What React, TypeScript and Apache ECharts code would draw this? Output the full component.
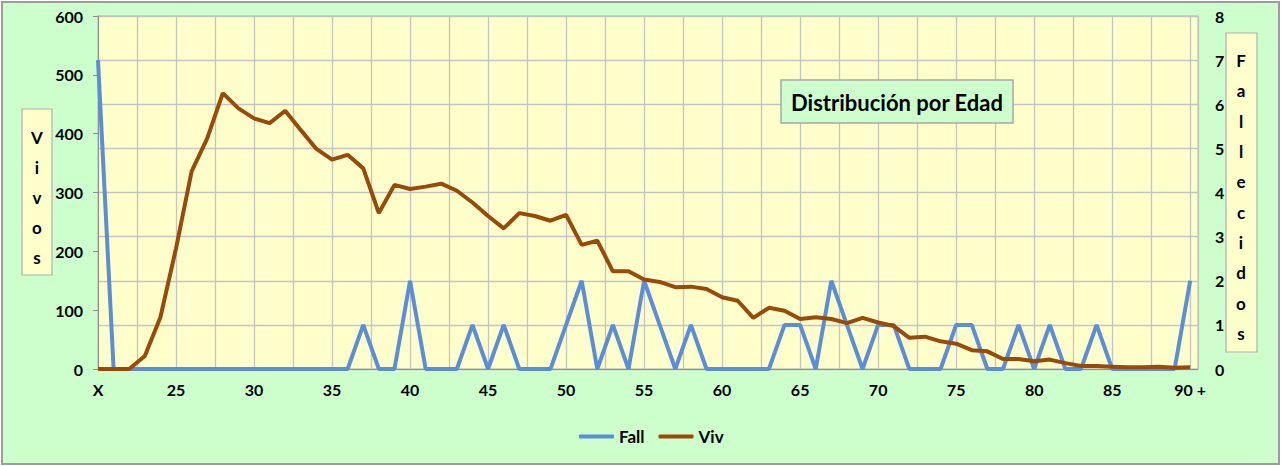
import React, { useEffect, useRef } from "react";
import * as echarts from "echarts";

const ages: string[] = [
  "X", "21", "22", "23", "24", "25", "26", "27", "28", "29", "30",
  "31", "32", "33", "34", "35", "36", "37", "38", "39", "40",
  "41", "42", "43", "44", "45", "46", "47", "48", "49", "50",
  "51", "52", "53", "54", "55", "56", "57", "58", "59", "60",
  "61", "62", "63", "64", "65", "66", "67", "68", "69", "70",
  "71", "72", "73", "74", "75", "76", "77", "78", "79", "80",
  "81", "82", "83", "84", "85", "86", "87", "88", "89", "90 +",
];

const fall: number[] = [
  7, 0, 0, 0, 0, 0, 0, 0, 0, 0, 0,
  0, 0, 0, 0, 0, 0, 1, 0, 0, 2,
  0, 0, 0, 1, 0, 1, 0, 0, 0, 1,
  2, 0, 1, 0, 2, 1, 0, 1, 0, 0,
  0, 0, 0, 1, 1, 0, 2, 1, 0, 1,
  1, 0, 0, 0, 1, 1, 0, 0, 1, 0,
  1, 0, 0, 1, 0, 0, 0, 0, 0, 2,
];

const viv: number[] = [
  0, 0, 0, 22, 88, 205, 336, 392, 469, 443, 426,
  418, 439, 406, 374, 356, 364, 341, 265, 313, 306,
  310, 315, 303, 283, 260, 239, 265, 260, 252, 262,
  211, 218, 166, 166, 152, 148, 139, 140, 136, 122,
  116, 87, 104, 99, 85, 88, 85, 78, 87, 79,
  73, 53, 55, 47, 43, 32, 30, 17, 17, 13,
  16, 10, 5, 5, 4, 3, 3, 4, 2, 3,
];

const titleText = "Distribución por Edad";
const leftAxisTitle = "Vivos";
const rightAxisTitle = "Fallecidos";

const FONT = "Lato, 'Open Sans', sans-serif";
const BLUE = "#5B8ED8";
const BROWN = "#9A4A08";

export default function App() {
  const ref = useRef<HTMLDivElement>(null);
  useEffect(() => {
    if (!ref.current) return;
    const chart = echarts.init(ref.current, undefined, { renderer: "svg" });
    const option: any = {
      animation: false,
      backgroundColor: "#ffffff",
      textStyle: { fontFamily: FONT },
      grid: {
        left: 98,
        top: 16,
        right: 83,
        bottom: 97,
        show: true,
        backgroundColor: "#FFFFCC",
        borderColor: "#B4B4B4",
        borderWidth: 1,
        outerBoundsMode: "none",
        containLabel: false,
      },
      legend: {
        left: 574,
        top: 423,
        itemWidth: 35,
        itemHeight: 4,
        itemGap: 14,
        textStyle: { fontFamily: FONT, fontWeight: "bold", fontSize: 17, color: "#000" },
        data: [
          { name: "Fall", icon: "roundRect", itemStyle: { color: BLUE } },
          { name: "Viv", icon: "roundRect", itemStyle: { color: BROWN } },
        ],
      },
      xAxis: {
        type: "value",
        min: 0,
        max: 70.5,
        interval: 2.5,
        axisLine: { show: true, lineStyle: { color: "#909090", width: 1 } },
        axisTick: { show: false },
        splitLine: { show: true, lineStyle: { color: "#C4C4C4", width: 1.3 } },
        axisLabel: {
          margin: 12,
          fontFamily: FONT,
          fontWeight: "bold",
          fontSize: 16,
          color: "#000",
          showMaxLabel: false,
          formatter: (v: number) => {
            const r = Math.round(v);
            if (Math.abs(v - r) < 1e-6 && r % 5 === 0 && r < ages.length) return ages[r];
            return "";
          },
        },
      },
      yAxis: [
        {
          type: "value",
          min: 0,
          max: 600,
          interval: 100,
          position: "left",
          axisLine: { show: true, lineStyle: { color: "#909090", width: 1 } },
          axisTick: { show: true, length: 5, lineStyle: { color: "#909090" } },
          splitLine: { show: false },
          axisLabel: {
            margin: 15,
            fontFamily: FONT,
            fontWeight: "bold",
            fontSize: 16,
            color: "#000",
          },
        },
        {
          type: "value",
          min: 0,
          max: 8,
          interval: 1,
          position: "right",
          axisLine: { show: false },
          axisTick: { show: false },
          splitLine: { show: true, lineStyle: { color: "#C4C4C4", width: 1.3 } },
          axisLabel: {
            margin: 17,
            fontFamily: FONT,
            fontWeight: "bold",
            fontSize: 16,
            color: "#000",
          },
        },
      ],
      series: [
        {
          name: "Fall",
          type: "line",
          yAxisIndex: 1,
          symbol: "none",
          lineStyle: { color: BLUE, width: 4 },
          itemStyle: { color: BLUE },
          data: fall.map((v, i) => [i, v]),
        },
        {
          name: "Viv",
          type: "line",
          yAxisIndex: 0,
          symbol: "none",
          lineStyle: { color: BROWN, width: 4 },
          itemStyle: { color: BROWN },
          data: viv.map((v, i) => [i, v]),
        },
      ],
      graphic: [
        {
          type: "rect",
          z: -10,
          silent: true,
          shape: { x: 2, y: 2, width: 1277, height: 462 },
          style: { fill: "#CCFFCC", stroke: "#9C9C9C", lineWidth: 2 },
        },
        {
          type: "rect",
          z: 10,
          shape: { x: 781, y: 80, width: 232, height: 43 },
          style: { fill: "#CCFFCC", stroke: "#A8A8A8", lineWidth: 1.5 },
        },
        {
          type: "text",
          z: 11,
          x: 897,
          y: 102,
          style: {
            text: titleText,
            fontFamily: FONT,
            fontWeight: "bold",
            fontSize: 22,
            fill: "#000",
            align: "center",
            verticalAlign: "middle",
          },
        },
        {
          type: "rect",
          z: 10,
          shape: { x: 22, y: 109, width: 30, height: 166 },
          style: { fill: "#FFFFCC", stroke: "#B0B0B0", lineWidth: 1.2 },
        },
        {
          type: "text",
          z: 11,
          x: 37,
          y: 197,
          style: {
            text: leftAxisTitle.split("").join("\n"),
            fontFamily: FONT,
            fontWeight: "bold",
            fontSize: 17,
            lineHeight: 30,
            fill: "#000",
            align: "center",
            verticalAlign: "middle",
          },
        },
        {
          type: "rect",
          z: 10,
          shape: { x: 1226, y: 33, width: 31, height: 319 },
          style: { fill: "#FFFFCC", stroke: "#B0B0B0", lineWidth: 1.2 },
        },
        {
          type: "text",
          z: 11,
          x: 1241,
          y: 197,
          style: {
            text: rightAxisTitle.split("").join("\n"),
            fontFamily: FONT,
            fontWeight: "bold",
            fontSize: 17,
            lineHeight: 30.3,
            fill: "#000",
            align: "center",
            verticalAlign: "middle",
          },
        },
      ],
    };
    chart.setOption(option);
    return () => chart.dispose();
  }, []);
  return (
    <div
      ref={ref}
      style={{ position: "fixed", left: 0, top: 0, width: 1281, height: 466 }}
    />
  );
}
